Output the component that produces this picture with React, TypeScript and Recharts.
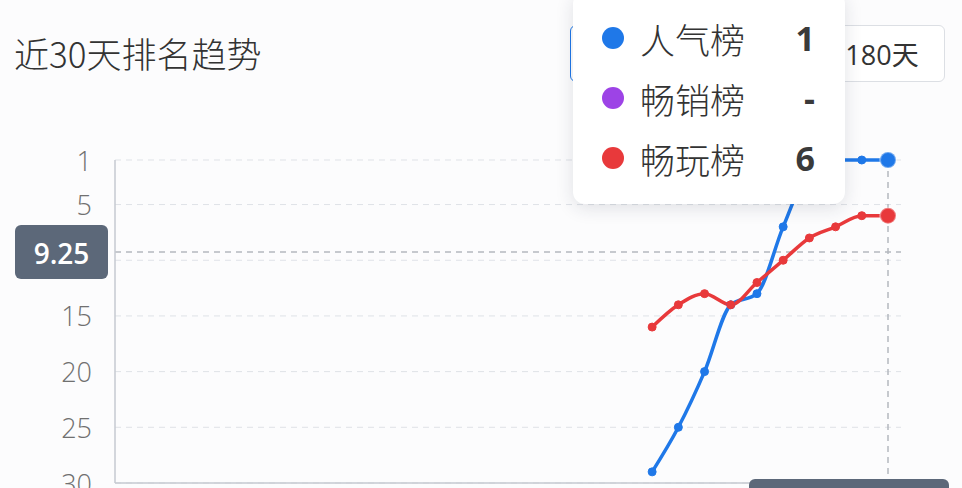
import React from 'react'
import { LineChart, Line, XAxis, YAxis, CartesianGrid, Tooltip, ReferenceLine } from 'recharts'

const days = [
  '10-01', '10-02', '10-03', '10-04', '10-05', '10-06', '10-07', '10-08', '10-09', '10-10',
  '10-11', '10-12', '10-13', '10-14', '10-15', '10-16', '10-17', '10-18', '10-19', '10-20',
  '10-21', '10-22', '10-23', '10-24', '10-25', '10-26', '10-27', '10-28', '10-29', '10-30',
]

// 人气榜
const popularRank = [
  null, null, null, null, null, null, null, null, null, null,
  null, null, null, null, null, null, null, null, null, null,
  29, 25, 20, 14, 13, 7, 2, 1, 1, 1,
]

// 畅销榜 (no data in this period)
const salesRank = [
  null, null, null, null, null, null, null, null, null, null,
  null, null, null, null, null, null, null, null, null, null,
  null, null, null, null, null, null, null, null, null, null,
]

// 畅玩榜
const playRank = [
  null, null, null, null, null, null, null, null, null, null,
  null, null, null, null, null, null, null, null, null, null,
  16, 14, 13, 14, 12, 10, 8, 7, 6, 6,
]

const rankTicks = [1, 5, 10, 15, 20, 25, 30]
const rangeOptions = ['30天', '90天', '180天']
const crosshairRank = 9.25
const hoverIndex = 29

const series = [
  { key: 'popular', name: '人气榜', color: '#1f78e8' },
  { key: 'sales', name: '畅销榜', color: '#9d43e6' },
  { key: 'play', name: '畅玩榜', color: '#e8393b' },
]

const data = days.map((day, i) => ({
  day,
  popular: popularRank[i],
  sales: salesRank[i],
  play: playRank[i],
}))

const FONT = '"Open Sans", "Noto Sans CJK SC", sans-serif'
const CJK = '"Noto Sans CJK SC", sans-serif'
const POINTER_BG = '#5c6879'

function RankTooltip({ active, payload }: any) {
  if (!active || !payload) return null
  return (
    <div
      style={{
        width: 272,
        boxSizing: 'border-box',
        padding: '16px 30px 16px 29px',
        background: '#fff',
        borderRadius: 12,
        boxShadow: '0 4px 18px rgba(30, 40, 60, 0.13)',
        fontFamily: FONT,
      }}
    >
      {series.map((s) => {
        const item = payload.find((p: any) => p.dataKey === s.key)
        const value = item && item.value != null ? item.value : '-'
        return (
          <div key={s.key} style={{ display: 'flex', alignItems: 'center', height: 60 }}>
            <span style={{ width: 22, height: 22, borderRadius: '50%', background: s.color, marginRight: 16 }} />
            <span style={{ flex: 1, fontSize: 35, color: '#333', fontFamily: CJK, fontWeight: 300 }}>{s.name}</span>
            <span style={{ fontSize: 34, fontWeight: 700, color: '#3a3a3a' }}>{value}</span>
          </div>
        )
      })}
    </div>
  )
}

function CrossCursor(props: any) {
  const { points } = props
  if (!points || points.length < 2) return null
  const [top, bottom] = points
  const boxW = 200
  const boxX = Math.min(top.x - boxW / 2, 949 - boxW)
  return (
    <g>
      <line x1={top.x} y1={top.y} x2={bottom.x} y2={bottom.y} stroke="#b4b8bf" strokeWidth={1.5} strokeDasharray="6 5" />
      <rect x={boxX} y={bottom.y - 4} width={boxW} height={44} rx={6} fill={POINTER_BG} />
    </g>
  )
}

function RankLabel({ viewBox }: any) {
  if (!viewBox) return null
  const { x, y } = viewBox
  return (
    <g>
      <rect x={x - 100} y={y - 27} width={93} height={54} rx={6} fill={POINTER_BG} />
      <text
        x={x - 53.5}
        y={y + 1}
        textAnchor="middle"
        dominantBaseline="central"
        fill="#fff"
        fontSize={28}
        fontWeight={600}
        fontFamily={FONT}
      >
        {crosshairRank}
      </text>
    </g>
  )
}

// tick labels sitting under the crosshair badge are covered by it
function RankTick(props: any) {
  const { x, y, payload } = props
  if (Math.abs(payload.value - crosshairRank) < 2) return <g />
  return (
    <text x={x} y={y} textAnchor="end" dominantBaseline="central" fill="#707070" fontSize={27} fontFamily={FONT} fontWeight={300}>
      {payload.value}
    </text>
  )
}

export default function App() {
  return (
    <div
      style={{
        position: 'absolute',
        left: 0,
        top: 0,
        width: 962,
        height: 488,
        overflow: 'hidden',
        background: '#fcfcfd',
        fontFamily: FONT,
      }}
    >
      <div
        style={{
          position: 'absolute',
          left: 14,
          top: 27,
          fontSize: 35,
          lineHeight: '52px',
          color: '#333',
          fontWeight: 300,
          fontFamily: CJK,
        }}
      >
        近30天排名趋势
      </div>

      <div style={{ position: 'absolute', left: 570, top: 25, height: 57, display: 'flex' }}>
        {rangeOptions.map((opt, i) => (
          <div
            key={opt}
            style={{
              width: 126,
              height: 57,
              boxSizing: 'border-box',
              display: 'flex',
              alignItems: 'center',
              justifyContent: 'center',
              fontSize: 27,
              color: i === 0 ? '#1f78e8' : '#333',
              border: `1.5px solid ${i === 0 ? '#1f78e8' : '#dcdfe4'}`,
              marginLeft: i === 0 ? 0 : -1.5,
              borderRadius: i === 0 ? '6px 0 0 6px' : i === rangeOptions.length - 1 ? '0 6px 6px 0' : 0,
              background: '#fff',
            }}
          >
            {opt}
          </div>
        ))}
      </div>

      <div style={{ position: 'absolute', left: 0, top: 0 }}>
        <LineChart width={962} height={488} data={data} margin={{ top: 160, right: 61, bottom: 0, left: 0 }}>
          <CartesianGrid vertical={false} stroke="#dfe2e7" strokeDasharray="6 5" />
          <XAxis
            dataKey="day"
            tick={false}
            tickLine={false}
            height={5}
            padding={{ left: 13, right: 13 }}
            axisLine={{ stroke: '#c6cad1', strokeWidth: 1.5 }}
          />
          <YAxis
            reversed
            type="number"
            domain={[1, 30]}
            ticks={rankTicks}
            interval={0}
            width={115}
            tickLine={false}
            tickMargin={17}
            axisLine={{ stroke: '#c6cad1', strokeWidth: 1.5 }}
            tick={<RankTick />}
          />
          <ReferenceLine
            y={crosshairRank}
            stroke="#b4b8bf"
            strokeWidth={1.5}
            strokeDasharray="6 5"
            label={<RankLabel />}
          />
          {series.map((s) => (
            <Line
              key={s.key}
              type="monotone"
              dataKey={s.key}
              name={s.name}
              stroke={s.color}
              strokeWidth={3.5}
              dot={{ r: 4, fill: s.color, stroke: s.color, strokeWidth: 1 }}
              activeDot={{ r: 8, fill: s.color, stroke: '#ffffff', strokeOpacity: 0.35, strokeWidth: 2 }}
              isAnimationActive={false}
            />
          ))}
          <Tooltip
            content={<RankTooltip />}
            defaultIndex={hoverIndex}
            active
            filterNull={false}
            position={{ x: 573, y: -8 }}
            allowEscapeViewBox={{ x: true, y: true }}
            cursor={<CrossCursor />}
            isAnimationActive={false}
            wrapperStyle={{ zIndex: 5, outline: 'none' }}
          />
        </LineChart>
      </div>
    </div>
  )
}
